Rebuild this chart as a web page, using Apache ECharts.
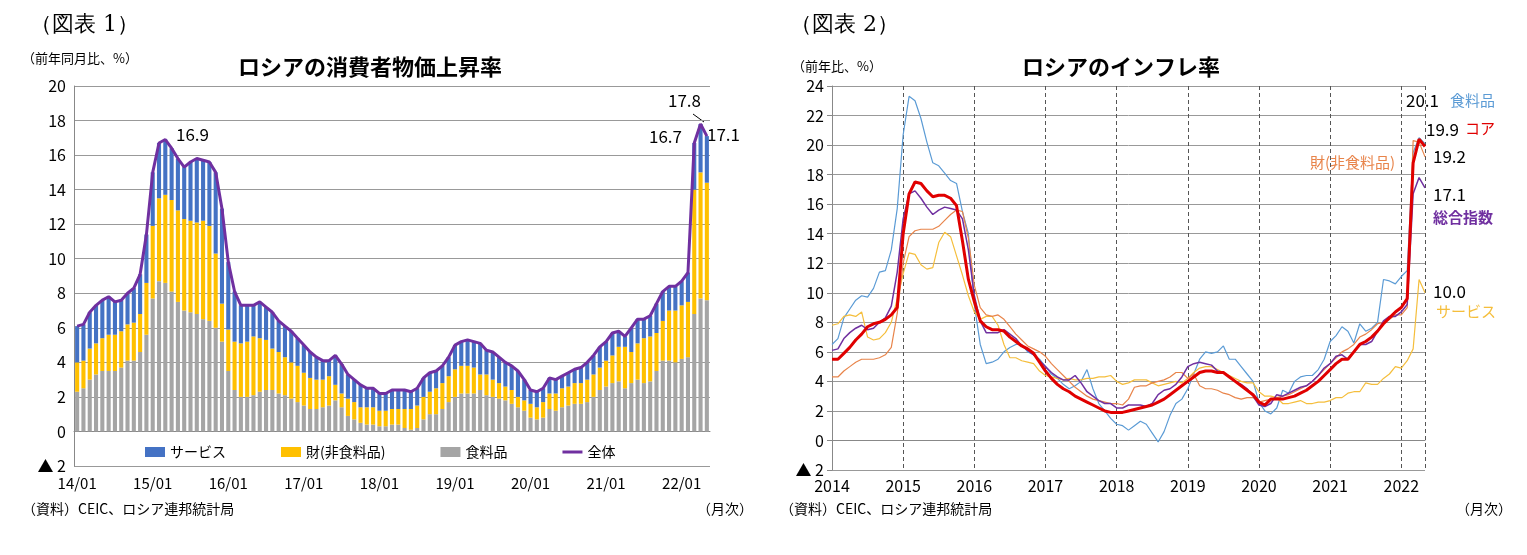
<!DOCTYPE html>
<html><head><meta charset="utf-8">
<script src="https://cdn.jsdelivr.net/npm/echarts@6/dist/echarts.min.js"></script>
<style>html,body{margin:0;background:#fff}#c{width:1527px;height:555px}</style>
</head><body><div id="c"></div>
<script>
// months 2014/01 .. 2022/05
const months = [];
for (let y = 2014; y <= 2022; y++) for (let m = 1; m <= 12; m++) { if (y === 2022 && m > 5) break; months.push(String(y).slice(2) + '/' + String(m).padStart(2, '0')); }
const yearTicks = ['2014','2015','2016','2017','2018','2019','2020','2021','2022'];

// Left chart: contributions (pt)
const foodContrib = [2.3,2.5,3.0,3.3,3.5,3.5,3.5,3.7,4.1,4.1,4.6,5.6, 7.7,8.7,8.6,8.1,7.5,7.0,6.9,6.8,6.5,6.4,6.0,5.2, 3.5,2.4,2.0,2.0,2.1,2.3,2.4,2.4,2.2,2.1,1.9,1.7, 1.5,1.3,1.3,1.4,1.5,1.8,1.4,0.9,0.7,0.5,0.4,0.4, 0.3,0.3,0.4,0.4,0.2,0.1,0.2,0.7,1.0,1.0,1.3,1.7, 2.0,2.2,2.2,2.2,2.4,2.1,2.0,1.9,1.8,1.6,1.4,1.2, 0.8,0.7,0.8,1.3,1.2,1.4,1.5,1.6,1.6,1.7,2.0,2.4, 2.6,2.8,2.9,2.5,2.8,3.0,2.8,2.9,3.5,4.1,4.1,4.0, 4.2,4.3,6.8,7.7,7.6];
const goodsContrib = [1.7,1.6,1.8,1.8,1.9,2.1,2.1,2.1,2.1,2.2,2.2,3.0, 4.2,4.8,5.1,5.3,5.3,5.3,5.3,5.3,5.7,5.5,4.3,2.2, 2.4,2.8,3.1,3.2,3.4,3.1,2.9,2.4,2.4,2.2,2.1,2.1, 1.9,1.8,1.7,1.6,1.7,0.9,0.8,1.0,1.0,0.9,1.0,1.0, 0.9,0.9,0.9,0.9,1.1,1.2,1.3,1.3,1.3,1.5,1.5,1.5, 1.6,1.6,1.6,1.5,0.9,1.2,1.0,0.9,0.8,0.8,0.6,0.6, 0.8,0.7,0.9,0.9,1.0,1.1,1.1,1.2,1.2,1.3,1.3,1.3, 1.5,1.6,2.0,2.4,1.8,2.1,2.6,2.6,2.2,2.3,2.9,3.0, 3.1,3.2,7.2,7.3,6.8];
const servContrib = [2.1,2.1,2.1,2.2,2.2,2.2,1.9,1.8,1.8,2.0,2.3,2.8, 3.1,3.2,3.2,3.0,3.0,3.0,3.4,3.7,3.5,3.7,4.7,5.5, 3.9,2.9,2.2,2.1,1.8,2.1,1.9,2.1,1.8,1.8,1.8,1.6, 1.6,1.5,1.3,1.1,0.9,1.7,1.7,1.4,1.3,1.3,1.1,1.1, 1.0,1.0,1.1,1.1,1.1,1.0,1.0,1.1,1.1,1.0,1.0,1.1, 1.4,1.4,1.5,1.5,1.8,1.4,1.6,1.5,1.4,1.4,1.5,1.2, 0.8,0.9,0.8,0.9,0.8,0.7,0.8,0.8,0.9,1.0,1.1,1.2, 1.1,1.3,0.9,0.6,1.4,1.4,1.1,1.2,1.7,1.7,1.4,1.4, 1.4,1.7,2.7,2.8,2.7];
const headline = [6.1,6.2,6.9,7.3,7.6,7.8,7.5,7.6,8.0,8.3,9.1,11.4, 15.0,16.7,16.9,16.4,15.8,15.3,15.6,15.8,15.7,15.6,15.0,12.9, 9.8,8.1,7.3,7.3,7.3,7.5,7.2,6.9,6.4,6.1,5.8,5.4, 5.0,4.6,4.3,4.1,4.1,4.4,3.9,3.3,3.0,2.7,2.5,2.5, 2.2,2.2,2.4,2.4,2.4,2.3,2.5,3.1,3.4,3.5,3.8,4.3, 5.0,5.2,5.3,5.2,5.1,4.7,4.6,4.3,4.0,3.8,3.5,3.0, 2.4,2.3,2.5,3.1,3.0,3.2,3.4,3.6,3.7,4.0,4.4,4.9, 5.2,5.7,5.8,5.5,6.0,6.5,6.5,6.7,7.4,8.1,8.4,8.4, 8.7,9.2,16.7,17.8,17.1];

// Right chart: YoY %
const coreCPI = [5.5,5.5,5.9,6.3,6.8,7.2,7.7,7.9,8.0,8.2,8.5,9.0, 14.0,16.7,17.5,17.4,16.9,16.5,16.6,16.6,16.4,15.9,13.5,10.9, 9.4,8.1,7.7,7.5,7.5,7.4,7.0,6.7,6.4,6.2,5.9,5.3, 4.7,4.2,3.8,3.5,3.3,3.0,2.8,2.6,2.4,2.2,2.0,1.9, 1.9,1.9,2.0,2.1,2.2,2.3,2.4,2.6,2.8,3.1,3.4,3.7, 4.0,4.3,4.6,4.7,4.7,4.6,4.6,4.3,4.0,3.7,3.4,3.1, 2.6,2.4,2.8,2.8,2.8,2.9,3.0,3.2,3.4,3.7,4.0,4.4, 4.8,5.2,5.5,5.5,6.0,6.5,6.7,7.0,7.4,7.9,8.3,8.7, 9.0,9.6,18.8,20.4,19.9];
const foodCPI = [6.5,6.9,8.3,8.9,9.5,9.8,9.7,10.3,11.4,11.5,12.9,15.7, 20.7,23.3,23.0,21.8,20.2,18.8,18.6,18.1,17.6,17.4,15.5,14.0, 9.2,6.5,5.2,5.3,5.5,6.0,6.3,6.5,6.5,6.0,5.8,5.5, 5.0,4.5,4.2,3.8,3.5,3.7,4.0,4.8,3.5,2.5,2.0,1.5, 1.1,1.0,0.7,1.0,1.3,1.1,0.5,-0.1,0.6,1.7,2.5,2.8, 3.5,4.5,5.5,6.0,5.9,6.0,6.4,5.5,5.5,5.0,4.5,4.0, 2.6,2.0,1.8,2.2,3.4,3.2,4.0,4.3,4.4,4.4,4.8,5.5, 6.7,7.1,7.7,7.4,6.6,7.9,7.4,7.6,8.0,10.9,10.8,10.6, 11.1,11.5,19.5,20.5,20.1];
const goodsCPI = [4.3,4.3,4.7,5.0,5.3,5.5,5.5,5.5,5.6,5.8,6.3,8.6, 12.0,13.8,14.2,14.3,14.3,14.3,14.5,14.9,15.3,15.6,15.5,13.7, 10.5,9.0,8.5,8.4,8.5,8.2,7.7,7.2,6.8,6.4,6.2,6.0, 5.7,5.2,4.8,4.4,4.0,3.6,3.3,3.0,2.8,2.7,2.6,2.5, 2.5,2.4,2.8,3.6,3.7,3.7,3.9,4.0,4.1,4.3,4.6,4.6, 4.2,4.5,3.7,3.5,3.5,3.4,3.2,3.1,2.9,2.8,2.9,2.9, 2.6,2.7,2.8,2.9,3.0,3.1,3.3,3.5,3.7,4.0,4.4,4.8, 5.2,5.6,6.0,6.2,6.5,7.0,7.2,7.5,7.9,8.0,8.2,8.5, 8.5,9.0,20.3,20.2,19.2];
const servCPI = [7.8,7.9,8.4,8.5,8.4,8.7,7.0,6.8,6.9,7.3,8.0,9.6, 11.3,12.7,12.6,11.9,11.6,11.7,13.4,14.1,13.8,12.5,11.2,9.8, 8.7,8.2,8.4,8.4,7.8,6.5,5.6,5.6,5.4,5.3,5.2,4.7, 4.4,4.3,4.2,4.1,4.2,4.1,4.1,4.2,4.2,4.3,4.3,4.4, 4.0,3.8,3.9,4.1,4.1,4.1,3.9,3.7,3.8,3.9,4.0,3.9, 4.2,4.6,4.9,5.0,5.0,4.8,4.6,4.4,4.2,4.0,3.9,3.9, 3.3,3.0,3.0,2.9,2.5,2.5,2.6,2.7,2.5,2.5,2.6,2.6, 2.7,2.9,2.9,3.2,3.3,3.3,3.9,3.8,3.8,4.2,4.5,5.0, 4.9,5.4,6.2,10.9,10.0];

const xy = arr => arr.map((v, i) => [2014 + i / 12, v]);
const F = '"Noto Sans CJK JP", sans-serif';
const yFmt = v => v < 0 ? '▲ ' + (-v) : String(v);
const txt = (x, y, s, size, color, weight) => ({ type: 'text', left: x, top: y, style: { text: s, font: (weight ? 'bold ' : '') + size + 'px ' + F, fill: color || '#000' } });

const chart = echarts.init(document.getElementById('c'));
chart.setOption({
  animation: false,
  textStyle: { fontFamily: F },
  grid: [
    { left: 74, top: 86, width: 636, height: 380 },
    { left: 832, top: 86, width: 593, height: 384 }
  ],
  xAxis: [
    { gridIndex: 0, type: 'category', data: months, boundaryGap: true,
      axisLine: { lineStyle: { color: '#888' } }, axisTick: { show: false },
      axisLabel: { interval: (i) => i % 12 === 0, color: '#000', fontSize: 15, margin: 10, formatter: v => v.slice(0, 2) + '/01' } },
    { gridIndex: 1, type: 'value', min: 2014, max: 2014 + 100 / 12, interval: 1,
      axisLine: { lineStyle: { color: '#888' } }, axisTick: { show: false },
      splitLine: { show: true, lineStyle: { color: '#555', type: [4, 3] } },
      axisLabel: { color: '#000', fontSize: 16, showMaxLabel: false, formatter: v => String(Math.round(v)) } }
  ],
  yAxis: [
    { gridIndex: 0, min: -2, max: 20, interval: 2, axisLine: { show: true, lineStyle: { color: '#888' } },
      splitLine: { lineStyle: { color: '#999' } }, axisLabel: { color: '#000', fontSize: 16, formatter: yFmt } },
    { gridIndex: 1, min: -2, max: 24, interval: 2, axisLine: { show: true, lineStyle: { color: '#888' } },
      splitLine: { lineStyle: { color: '#999' } }, axisLabel: { color: '#000', fontSize: 16, formatter: yFmt } }
  ],
  legend: { left: 140, top: 440, itemGap: 55, itemWidth: 20, itemHeight: 10, textStyle: { fontSize: 14, color: '#000' },
    data: [{ name: 'サービス', icon: 'rect' }, { name: '財(非食料品)', icon: 'rect' }, { name: '食料品', icon: 'rect' },
      { name: '全体', icon: 'path://M0,4 L20,4 L20,7 L0,7 Z' }] },
  series: [
    { name: '食料品', type: 'bar', stack: 'c', data: foodContrib, barWidth: '65%', itemStyle: { color: '#A5A5A5' } },
    { name: '財(非食料品)', type: 'bar', stack: 'c', data: goodsContrib, itemStyle: { color: '#FFC000' } },
    { name: 'サービス', type: 'bar', stack: 'c', data: servContrib, itemStyle: { color: '#4472C4' } },
    { name: '全体', type: 'line', data: headline, symbol: 'none', lineStyle: { color: '#7030A0', width: 3 }, itemStyle: { color: '#7030A0' } },
    { name: 'food2', type: 'line', xAxisIndex: 1, yAxisIndex: 1, data: xy(foodCPI), symbol: 'none', lineStyle: { color: '#5B9BD5', width: 1.2 } },
    { name: 'serv2', type: 'line', xAxisIndex: 1, yAxisIndex: 1, data: xy(servCPI), symbol: 'none', lineStyle: { color: '#F5BE3C', width: 1.2 } },
    { name: 'goods2', type: 'line', xAxisIndex: 1, yAxisIndex: 1, data: xy(goodsCPI), symbol: 'none', lineStyle: { color: '#E8844A', width: 1.2 } },
    { name: 'all2', type: 'line', xAxisIndex: 1, yAxisIndex: 1, data: xy(headline), symbol: 'none', lineStyle: { color: '#7030A0', width: 1.5 } },
    { name: 'core2', type: 'line', xAxisIndex: 1, yAxisIndex: 1, data: xy(coreCPI), symbol: 'none', lineStyle: { color: '#E00000', width: 3 } }
  ],
  graphic: [
    { type: 'text', left: 30, top: 14, style: { text: '（図表 1）', font: '22px "DejaVu Serif", serif', fill: '#000' } },
    { type: 'text', left: 790, top: 14, style: { text: '（図表 2）', font: '22px "DejaVu Serif", serif', fill: '#000' } },
    txt(22, 52, '（前年同月比、%）', 13),
    txt(792, 60, '（前年比、%）', 13),
    txt(238, 56, 'ロシアの消費者物価上昇率', 22, '#000', true),
    txt(1022, 56, 'ロシアのインフレ率', 22, '#000', true),
    txt(22, 502, '（資料）CEIC、ロシア連邦統計局', 14),
    txt(697, 502, '（月次）', 14),
    txt(780, 502, '（資料）CEIC、ロシア連邦統計局', 14),
    txt(1456, 502, '（月次）', 14),
    txt(176, 126, '16.9', 17), txt(668, 92, '17.8', 17), txt(649, 128, '16.7', 17), txt(707, 126, '17.1', 17),
    { type: 'line', shape: { x1: 693, y1: 114, x2: 704, y2: 122 }, style: { stroke: '#000', lineWidth: 1 } },
    txt(1406, 92, '20.1', 17), txt(1450, 93, '食料品', 15, '#5B9BD5'),
    txt(1426, 121, '19.9', 17), txt(1465, 121, 'コア', 15, '#E00000'),
    txt(1433, 148, '19.2', 17), txt(1310, 155, '財(非食料品)', 15, '#E8844A'),
    txt(1433, 186, '17.1', 17), txt(1433, 210, '総合指数', 15, '#7030A0', true),
    txt(1433, 283, '10.0', 17), txt(1436, 304, 'サービス', 15, '#F5BE3C')
  ]
});
</script></body></html>
